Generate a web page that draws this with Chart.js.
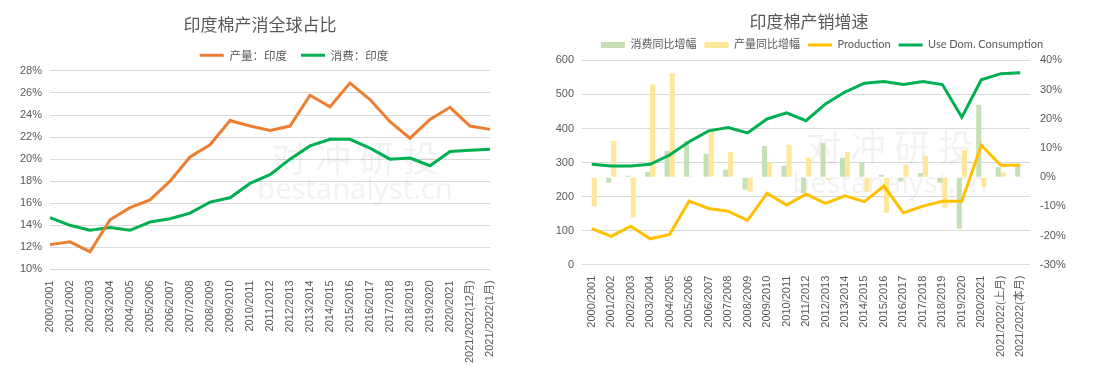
<!DOCTYPE html>
<html>
<head>
<meta charset="utf-8">
<script src="https://cdn.jsdelivr.net/npm/chart.js@4/dist/chart.umd.min.js"></script>
<style>
  body { margin: 0; background: #fff; }
  .box { position: absolute; top: 0; height: 366px; }
</style>
</head>
<body>
<div class="box" style="left:0;width:550px"><canvas id="share" width="550" height="366"></canvas></div>
<div class="box" style="left:550px;width:552px"><canvas id="growth" width="552" height="366"></canvas></div>
<script>
const seasons = ['2000/2001','2001/2002','2002/2003','2003/2004','2004/2005','2005/2006','2006/2007',
  '2007/2008','2008/2009','2009/2010','2010/2011','2011/2012','2012/2013','2013/2014','2014/2015',
  '2015/2016','2016/2017','2017/2018','2018/2019','2019/2020','2020/2021'];
const shareLabels = seasons.concat(['2021/2022(12月)', '2021/2022(1月)']);
const growthLabels = seasons.concat(['2021/2022(上月)', '2021/2022(本月)']);

// left chart: share of world, %
const prodShare = [12.25, 12.5, 11.6, 14.5, 15.6, 16.3, 18.0, 20.2, 21.3, 23.5, 23.0, 22.6, 23.0,
  25.8, 24.75, 26.9, 25.4, 23.4, 21.9, 23.6, 24.7, 23.0, 22.7];
const useShare = [14.7, 14.0, 13.55, 13.8, 13.55, 14.3, 14.6, 15.1, 16.1, 16.5, 17.8, 18.6, 20.0,
  21.2, 21.8, 21.8, 21.0, 20.0, 20.1, 19.4, 20.7, 20.8, 20.9];

// right chart
const useGrowth = [-0.2, -1.9, 0.5, 1.8, 9.0, 12.4, 8.0, 2.5, -4.3, 10.7, 3.9, -5.4, 11.8,
  6.6, 5.2, 0.8, -1.5, 1.4, -1.9, -17.7, 24.8, 3.4, 4.3];
const prodGrowth = [-10.1, 12.5, -13.9, 31.7, 35.6, 0.2, 15.9, 8.7, -5.0, 4.9, 11.1, 6.6, -0.8,
  8.7, -5.0, -12.2, 4.2, 7.3, -10.5, 9.3, -3.3, 1.6, -0.4];
const production = [106, 83, 113, 76, 89, 187, 165, 157, 130, 210, 175, 207, 180,
  202, 185, 231, 152, 172, 186, 186, 351, 292, 292];
const consumption = [295, 290, 290, 295, 322, 361, 393, 403, 387, 428, 446, 423, 472,
  507, 533, 538, 529, 538, 529, 433, 543, 561, 564];

const FONT = '"Liberation Sans", "Noto Sans CJK SC", sans-serif';
const CJK = '"Noto Sans CJK SC", "Liberation Sans", sans-serif';
const LEG = 'Lato, "Noto Sans CJK SC", sans-serif';
const GREY = '#595959';
Chart.defaults.font.family = FONT;
Chart.defaults.color = GREY;

function watermark(x, y1, y2) {
  return {
    id: 'wm',
    beforeDatasetsDraw(chart) {
      const ctx = chart.ctx;
      ctx.save();
      ctx.fillStyle = 'rgba(0,0,0,0.05)';
      ctx.textAlign = 'center';
      ctx.textBaseline = 'middle';
      ctx.font = '36px "Noto Sans CJK SC"';
      ctx.fillText('对 冲 研 投', x, y1);
      ctx.font = '29px "Noto Sans"';
      ctx.fillText('bestanalyst.cn', x, y2);
      ctx.restore();
    }
  };
}

// nudge title / legend sideways, like the Excel layout
function nudge(titleDx, legendDx) {
  return {
    id: 'nudge',
    afterLayout(chart) {
      chart.titleBlock.left += titleDx;
      chart.titleBlock.right += titleDx;
      chart.legend.left += legendDx;
      chart.legend.right += legendDx;
    }
  };
}

function legendOpts(pad, size, family) {
  return {
    position: 'top',
    labels: {
      usePointStyle: true,
      pointStyleWidth: 24,
      boxWidth: 24,
      boxHeight: 6,
      padding: pad,
      font: { size: size, family: family },
      color: GREY
    }
  };
}

const xAxis = {
  grid: { display: false },
  border: { display: false },
  ticks: { maxRotation: 90, minRotation: 90, autoSkip: false, font: { size: 11 }, color: GREY }
};

new Chart(document.getElementById('share'), {
  type: 'line',
  data: {
    labels: shareLabels,
    datasets: [
      { label: '产量：印度', data: prodShare, borderColor: '#ED7D31', backgroundColor: '#ED7D31',
        borderWidth: 3, pointRadius: 0, pointStyle: 'line', tension: 0 },
      { label: '消费：印度', data: useShare, borderColor: '#00B050', backgroundColor: '#00B050',
        borderWidth: 3, pointRadius: 0, pointStyle: 'line', tension: 0 }
    ]
  },
  options: {
    responsive: false,
    animation: false,
    layout: { padding: { left: 0, right: 6, top: 0, bottom: 0 } },
    plugins: {
      title: { display: true, text: '印度棉产消全球占比', font: { size: 17, weight: 'normal', family: CJK },
        color: GREY, padding: { top: 14, bottom: 1 } },
      legend: legendOpts(14, 11.5, CJK),
      tooltip: { enabled: false }
    },
    scales: {
      x: xAxis,
      y: {
        min: 10, max: 28,
        border: { display: false },
        grid: { color: '#d9d9d9', drawTicks: false },
        ticks: { stepSize: 2, padding: 8, font: { size: 11 }, color: GREY, callback: v => v + '%' },
        afterFit: s => { s.width = 50; }
      },
      pad: {
        position: 'right',
        display: true,
        grid: { display: false },
        border: { display: false },
        ticks: { display: false },
        afterFit: s => { s.width = 54; }
      }
    }
  },
  plugins: [watermark(355, 158, 191), nudge(-12, 22)]
});

new Chart(document.getElementById('growth'), {
  type: 'bar',
  data: {
    labels: growthLabels,
    datasets: [
      { type: 'line', label: 'Production', data: production, borderColor: '#FFC000',
        backgroundColor: '#FFC000', borderWidth: 3, pointRadius: 0, pointStyle: 'line',
        tension: 0, yAxisID: 'y', order: 1 },
      { type: 'line', label: 'Use Dom. Consumption', data: consumption, borderColor: '#00B050',
        backgroundColor: '#00B050', borderWidth: 3, pointRadius: 0, pointStyle: 'line',
        tension: 0, yAxisID: 'y', order: 0 },
      { label: '消费同比增幅', data: useGrowth, backgroundColor: '#C5E0B4', pointStyle: 'rect',
        yAxisID: 'y1', order: 2, categoryPercentage: 0.52, barPercentage: 1 },
      { label: '产量同比增幅', data: prodGrowth, backgroundColor: '#FFE699', pointStyle: 'rect',
        yAxisID: 'y1', order: 3, categoryPercentage: 0.52, barPercentage: 1 }
    ]
  },
  options: {
    responsive: false,
    animation: false,
    layout: { padding: { left: 0, right: 20, top: 0, bottom: 6 } },
    plugins: {
      title: { display: true, text: '印度棉产销增速', font: { size: 17, weight: 'normal', family: CJK },
        color: GREY, padding: { top: 11, bottom: 0 } },
      legend: (() => {
        const l = legendOpts(8, 11, LEG);
        l.labels.sort = (a, b) => [2, 3, 0, 1].indexOf(a.datasetIndex) - [2, 3, 0, 1].indexOf(b.datasetIndex);
        return l;
      })(),
      tooltip: { enabled: false }
    },
    scales: {
      x: xAxis,
      y: {
        position: 'left',
        min: 0, max: 600,
        border: { display: false },
        grid: { color: '#d9d9d9', drawTicks: false },
        ticks: { stepSize: 100, padding: 8, font: { size: 11 }, color: GREY },
        afterFit: s => { s.width = 32; }
      },
      y1: {
        position: 'right',
        min: -30, max: 40,
        border: { display: false },
        grid: { drawOnChartArea: false, drawTicks: false },
        ticks: { stepSize: 10, padding: 10, font: { size: 11 }, color: GREY, callback: v => v + '%' },
        afterFit: s => { s.width = 52; }
      }
    }
  },
  plugins: [watermark(340, 147, 185), nudge(-7, 6)]
});
</script>
</body>
</html>
